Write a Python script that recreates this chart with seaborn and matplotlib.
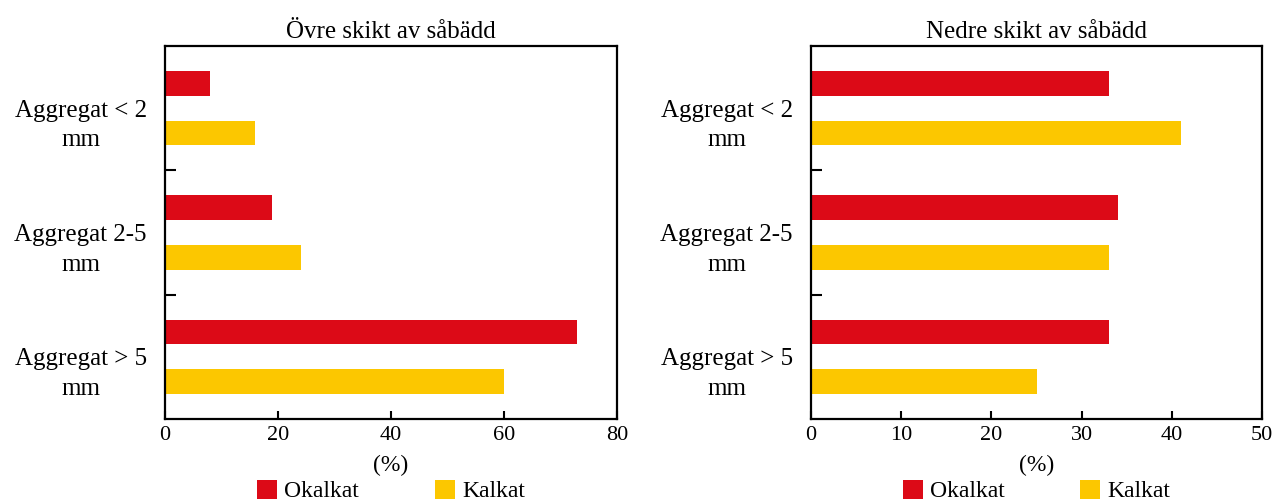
import pandas as pd
import matplotlib.pyplot as plt
import matplotlib.transforms as mtransforms
import seaborn as sns

# data
categories = ["Aggregat < 2\nmm", "Aggregat 2-5\nmm", "Aggregat > 5\nmm"]
treatments = ["Okalkat", "Kalkat"]
ovre_okalkat = [8, 19, 73]
ovre_kalkat = [16, 24, 60]
nedre_okalkat = [33, 34, 33]
nedre_kalkat = [41, 33, 25]
titles = ["Övre skikt av såbädd", "Nedre skikt av såbädd"]
xlims = [80, 50]
xticks = [[0, 20, 40, 60, 80], [0, 10, 20, 30, 40, 50]]
colors = ["#DC0A17", "#FCC700"]


def long_df(okalkat, kalkat):
    rows = []
    for cat, a, b in zip(categories, okalkat, kalkat):
        rows.append({"cat": cat, "beh": "Okalkat", "val": a})
        rows.append({"cat": cat, "beh": "Kalkat", "val": b})
    return pd.DataFrame(rows)


sns.set_style("white")
plt.rcParams["font.family"] = ["Liberation Serif", "DejaVu Serif"]
plt.rcParams["text.color"] = "black"
plt.rcParams["xtick.color"] = "black"
plt.rcParams["ytick.color"] = "black"
plt.rcParams["axes.labelcolor"] = "black"

fig = plt.figure(figsize=(12.73, 5.04), dpi=100)
axes = [fig.add_axes([0.1296, 0.1687, 0.3551, 0.740]),
        fig.add_axes([0.6371, 0.1687, 0.3543, 0.740])]

datasets = [long_df(ovre_okalkat, ovre_kalkat), long_df(nedre_okalkat, nedre_kalkat)]

# labels in the reference sit a bit below the category centre
shift = mtransforms.ScaledTranslation(0, -11 / 100, fig.dpi_scale_trans)

for ax, df, title, xl, xt in zip(axes, datasets, titles, xlims, xticks):
    sns.barplot(data=df, y="cat", x="val", hue="beh", order=categories,
                hue_order=treatments, palette=colors, orient="h",
                width=0.8, gap=0.5, saturation=1, linewidth=0, ax=ax)
    ax.set_xlim(0, xl)
    ax.set_ylim(2.5, -0.5)
    ax.set_xticks(xt)
    ax.set_xlabel("(%)", fontsize=17, labelpad=7)
    ax.set_ylabel("")
    ax.set_title(title, fontsize=18, pad=6)
    for s in ax.spines.values():
        s.set_visible(True)
        s.set_color("black")
        s.set_linewidth(1.6)
    ax.tick_params(axis="x", direction="in", length=6, width=1.5,
                   labelsize=16, pad=5, bottom=True)
    ax.tick_params(axis="y", which="major", length=0, labelsize=18, pad=13)
    ax.set_yticks([0.5, 1.5], minor=True)
    ax.tick_params(axis="y", which="minor", direction="in", length=8, width=1.5, left=True)
    for tick in ax.yaxis.get_major_ticks():
        lab = tick.label1
        lab.set_multialignment("center")
        lab.set_linespacing(1.45)
        lab.set_transform(lab.get_transform() + shift)

    handles, labels = ax.get_legend_handles_labels()
    ax.legend(handles, labels, loc="upper center", bbox_to_anchor=(0.5, -0.163),
              ncol=2, frameon=False, fontsize=17, handlelength=0.85,
              handleheight=0.85, handletextpad=0.3, columnspacing=3.2,
              borderaxespad=0, borderpad=0)

fig.savefig("out.png", dpi=100)
